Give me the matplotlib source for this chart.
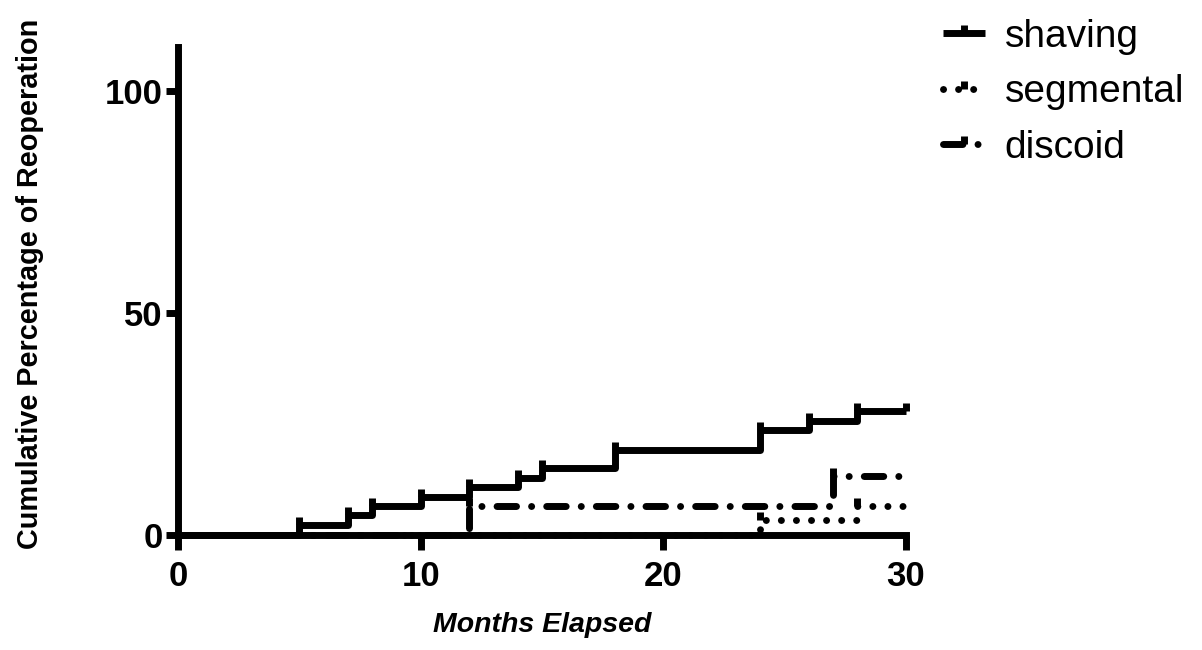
import matplotlib
matplotlib.use("Agg")
import matplotlib.pyplot as plt
from matplotlib.path import Path

plt.rcParams['font.family'] = ['Liberation Sans', 'DejaVu Sans']

# Kaplan-Meier style cumulative reoperation curves
shaving_t = [0, 5, 7, 8, 10, 12, 14, 15, 18, 24, 26, 28, 30]
shaving_y = [0, 2.2, 4.4, 6.5, 8.6, 10.8, 12.9, 15.1, 19.1, 23.6, 25.7, 27.9, 27.9]

segmental_t = [0, 24, 28, 30]
segmental_y = [0, 3.4, 6.5, 6.5]

discoid_t = [0, 12, 27, 30]
discoid_y = [0, 6.5, 13.3, 13.3]

x_ticks = [0, 10, 20, 30]
y_ticks = [0, 50, 100]

# censor tick pointing upward from the line
tick = Path([[0, 0], [0, 1]])

fig = plt.figure(figsize=(12.02, 6.5), dpi=100)
ax = fig.add_axes([178 / 1202, 115 / 650, 728 / 1202, 488 / 650])

common = dict(where="post", color="black", lw=5, marker=tick, ms=11, mew=5,
              clip_on=False)
ax.step(shaving_t, shaving_y, label="shaving", solid_capstyle="butt",
        markevery=list(range(1, len(shaving_t))), **common)
ax.step(segmental_t, segmental_y, label="segmental",
        linestyle=(0, (0.01, 2.16)), dash_capstyle="round",
        markevery=[1, 2], **common)
ax.step(discoid_t, discoid_y, label="discoid",
        linestyle=(0, (2.8, 2.17, 0.01, 2.17)), dash_capstyle="round",
        markevery=[1, 2], **common)

ax.set_xlim(0, 30)
ax.set_ylim(0, 110)
ax.set_xticks(x_ticks)
ax.set_yticks(y_ticks)
for side in ["top", "right"]:
    ax.spines[side].set_visible(False)
for side in ["left", "bottom"]:
    ax.spines[side].set_linewidth(5)
ax.tick_params(direction="out", width=5, labelsize=25)
ax.tick_params(axis="x", length=11, pad=7)
ax.tick_params(axis="y", length=9, pad=2)
for lab in ax.get_xticklabels() + ax.get_yticklabels():
    lab.set_fontweight("bold")

ax.set_xlabel("Months Elapsed", fontsize=20.5, fontweight="bold",
              fontstyle="italic", labelpad=14)
fig.text(30 / 1202, 1 - 284 / 650, "Cumulative Percentage of Reoperation",
         rotation=90, ha="center", va="center", fontsize=20.8, fontweight="bold")

fig.legend(loc="upper left", bbox_to_anchor=(943 / 1202, 1 - 19 / 650),
           frameon=False, fontsize=28, handlelength=1.08, handletextpad=0.5,
           labelspacing=0.5, borderpad=0, borderaxespad=0, numpoints=1)

fig.savefig("out.png", dpi=100)
